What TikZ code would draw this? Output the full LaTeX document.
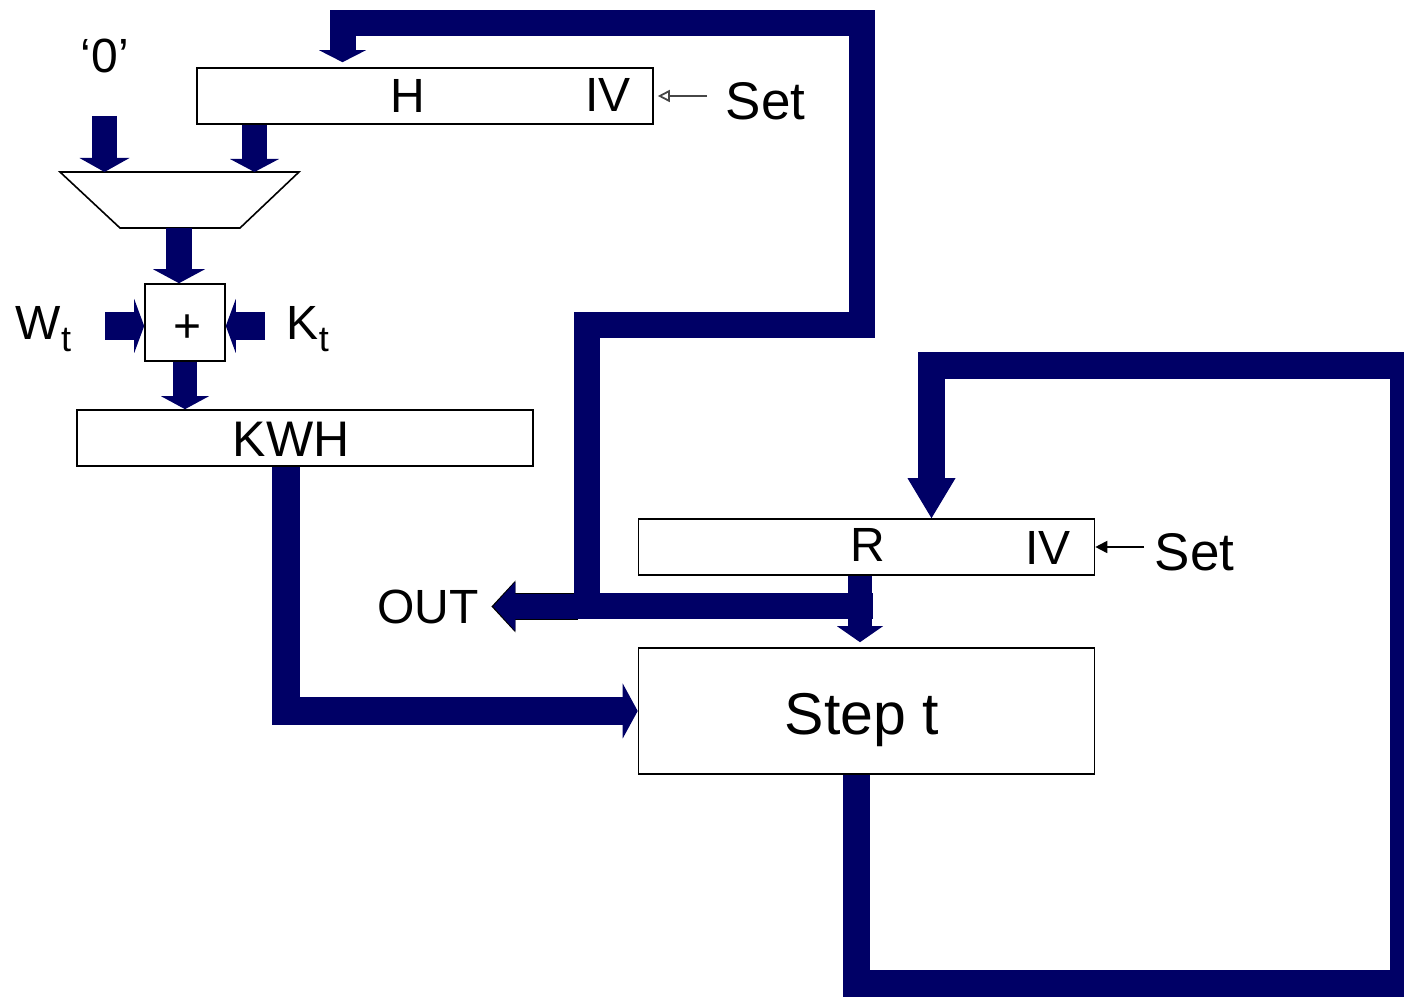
\documentclass[tikz,border=0pt]{standalone}
\usepackage{fontspec}
\setmainfont{Liberation Sans}
\usetikzlibrary{arrows.meta,positioning,calc}
\definecolor{ink}{RGB}{0,0,0}
\definecolor{bus}{RGB}{0,0,102}
\definecolor{setgray}{RGB}{70,70,70}
\tikzset{
  every picture/.style={x=0.5pt, y=-0.5pt, line width=0.8pt},
  reg/.style={draw=ink, fill=white, inner sep=0pt, minimum width=228pt, minimum height=28pt},
  lbl/.style={font=\fontsize{24}{28}\selectfont, inner sep=0pt, text=ink},
  setlbl/.style={lbl, font=\fontsize{26.5}{32}\selectfont},
  wire/.style={draw=bus, line width=#1, line join=miter},
  wire/.default=13pt,
  rim/.style={draw=ink, line width=#1, line join=miter},
  head/.style 2 args={-{Triangle[length=#1, width=#2, line width=0pt]}},
  setarr/.style={draw=ink, line width=0.9pt, -{Triangle[length=6pt, width=6pt]}},
}
\newcommand{\subt}{\raisebox{-6pt}{\fontsize{18}{18}\selectfont t}}

\begin{document}
\begin{tikzpicture}
  \useasboundingbox (0,0) rectangle (1404,999);
  % registers, adder and multiplexer
  \node[reg] (hreg) at (425,96) {};
  \node[reg] (kwh) at (305,438) {};
  \node[reg] (rreg) at (866.5,547) {};
  \node[reg, minimum height=63pt] (step) at (866.5,711) {};
  \node[draw=ink, fill=white, inner sep=0pt, minimum width=40pt, minimum height=38.5pt] (add) at (185,322.5) {};
  \draw[ink, fill=white] (60,172) -- (299,172) -- (240,228) -- (120,228) -- cycle;

  % texts
  \node[lbl, anchor=base] (hname) at (408,113) {H};
  \node[lbl, anchor=base] (hiv) at (608,112) {IV};
  \node[setlbl, anchor=base west] (hset) at (725,120) {Set};
  \node[lbl, anchor=base] (zero) at (105,73) {‘0’};
  \node[lbl, anchor=base west] (wt) at (15,340) {W\subt};
  \node[lbl, anchor=base west] (kt) at (286,340) {K\subt};
  \node[lbl] (plus) at (188,329) {+};
  \node[lbl, font=\fontsize{25}{30}\selectfont, anchor=base] (kwhname) at (291,457) {KWH};
  \node[lbl, anchor=base] (rname) at (868,562) {R};
  \node[lbl, anchor=base] (riv) at (1048,565) {IV};
  \node[setlbl, anchor=base west] (rset) at (1154,571) {Set};
  \node[lbl, anchor=base] (outlbl) at (428,624) {OUT};
  \node[lbl, font=\fontsize{29.5}{34}\selectfont, anchor=base] (stepname) at (862,735) {Step t};

  % free ends and bends of the buses
  \coordinate (zsrc) at (104.5,116);
  \coordinate (muxin0) at (104.5,172);
  \coordinate (muxinh) at (254.5,172);
  \coordinate (muxout) at (179,228);
  \coordinate (win) at (105,326);
  \coordinate (kin) at (265,326);
  \coordinate (tap) at (873,606.5);
  \coordinate (bendA) at (587,325.5);
  \coordinate (bendB) at (861.5,23);
  \coordinate (hfeed) at (342.5,0);
  \coordinate (outtap) at (578,606.5);
  \coordinate (loopbr) at (1403.5,983);
  \coordinate (looptl) at (931.5,366);

  % buses
  \draw[wire=12.5pt, head={7pt}{25pt}] (zsrc) -- (muxin0);
  \draw[wire=12.5pt, head={6.5pt}{24.5pt}] (muxinh |- hreg.south) -- (muxinh);
  \draw[wire, head={7pt}{26pt}] (muxout) -- (muxout |- add.north);
  \draw[wire=14pt, head={5pt}{27pt}] (win) -- (win -| add.west);
  \draw[wire=14pt, head={5pt}{27pt}] (kin) -- (kin -| add.east);
  \draw[wire=12pt, head={6.5pt}{24pt}] (add.south) -- (add.south |- kwh.north);
  \draw[wire=14pt, head={7.5pt}{27.5pt}] ([xshift=-9.5pt]kwh.south) |- (step.west);
  \draw[rim=13.5pt, head={12pt}{26pt}, shorten >=6pt] (outtap) -- (outtap -| outlbl.east);
  \draw[wire=12.5pt, head={11pt}{24.5pt}, shorten >=6.9pt] (outtap) -- (outtap -| outlbl.east);
  \draw[wire, head={6pt}{23.5pt}, shorten >=2.5pt] (tap) -| (bendA) -| (bendB) -| (hfeed |- hreg.north);
  \draw[wire=12pt, head={8pt}{23pt}, shorten >=2.5pt] ([xshift=-3.25pt]rreg.south) -- ([xshift=-3.25pt]step.north);
  \draw[wire=13.5pt, head={20pt}{24pt}] ([xshift=-5pt]step.south) |- (loopbr) |- (looptl) -- (looptl |- rreg.north);

  % set lines
  \draw[setarr, draw=setgray, -{Triangle[open, length=6pt, width=6pt]}, shorten <=9pt, shorten >=2pt] (hset.west |- hreg.east) -- (hreg.east);
  \draw[setarr, shorten <=5pt] (rset.west |- rreg.east) -- (rreg.east);
\end{tikzpicture}
\end{document}
